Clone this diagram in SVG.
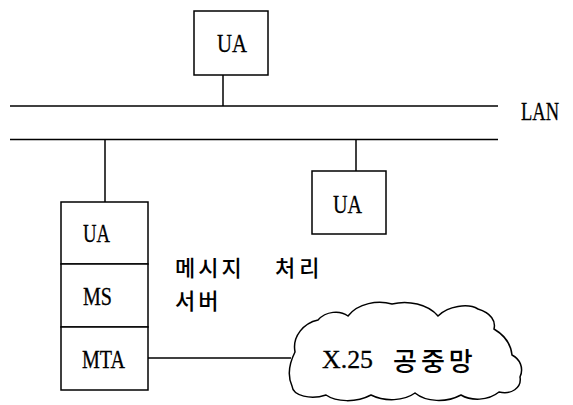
<svg xmlns="http://www.w3.org/2000/svg" width="573" height="405" viewBox="0 0 573 405">
<style>
.ln{stroke:#000;stroke-width:1.5;fill:none}
.bx{stroke:#000;stroke-width:1.5;fill:#fff}
.lt{font-family:"Liberation Serif",serif;font-size:26px;fill:#000;stroke:#000;stroke-width:0.3}
.ko{font-family:"Noto Sans CJK KR",sans-serif;font-weight:500;fill:#000}
</style>
<rect width="573" height="405" fill="#fff"/>
<g id="connectors">
<line class="ln" x1="10" y1="106" x2="498" y2="106"/>
<line class="ln" x1="10" y1="139.5" x2="498" y2="139.5"/>
<line class="ln" x1="223" y1="75" x2="223" y2="106"/>
<line class="ln" x1="105" y1="139.5" x2="105" y2="202"/>
<line class="ln" x1="356" y1="139.5" x2="356" y2="171"/>
<line class="ln" x1="148" y1="358" x2="291" y2="358"/>
</g>
<g id="lan">
<text class="lt" x="521" y="120" font-size="20" textLength="38" lengthAdjust="spacingAndGlyphs">LAN</text>
</g>
<g id="ua-top">
<rect class="bx" x="194" y="11" width="74" height="64"/>
<text class="lt" x="217" y="52" textLength="30" lengthAdjust="spacingAndGlyphs">UA</text>
</g>
<g id="ua-right">
<rect class="bx" x="312" y="171" width="74" height="63"/>
<text class="lt" x="333" y="213" textLength="29" lengthAdjust="spacingAndGlyphs">UA</text>
</g>
<g id="server">
<rect class="bx" x="61" y="202" width="87" height="62"/>
<rect class="bx" x="61" y="264" width="87" height="63"/>
<rect class="bx" x="61" y="327" width="87" height="63"/>
<text class="lt" x="83" y="242" textLength="27" lengthAdjust="spacingAndGlyphs">UA</text>
<text class="lt" x="83" y="305" textLength="29" lengthAdjust="spacingAndGlyphs">MS</text>
<text class="lt" x="82" y="368" textLength="43" lengthAdjust="spacingAndGlyphs">MTA</text>
</g>
<g id="server-label">
<text class="ko" x="175" y="276" font-size="22" letter-spacing="3">메시지</text>
<text class="ko" x="275" y="276" font-size="22" letter-spacing="4">처리</text>
<text class="ko" x="175" y="309" font-size="22" letter-spacing="3">서버</text>
</g>
<g id="x25">
<path class="ln" d="M295,352 C292,336 304,323 318,320 C326,311 340,310 348,316 C358,303 378,300 392,304 C408,300 428,304 438,316 C448,306 468,303 478,309 C491,313 496,321 494,329 C504,335 511,344 512,355 C520,359 524,368 520,377 C522,388 511,395 499,392 C488,401 471,401 461,395 C446,403 426,402 415,393 C404,401 385,402 371,395 C356,403 336,402 326,395 C311,400 293,396 292,386 C287,375 290,362 295,352 Z"/>
<text x="322" y="368" font-family="Liberation Serif,serif" font-size="25" stroke="#000" stroke-width="0.3" textLength="51" lengthAdjust="spacingAndGlyphs">X.25</text>
<text class="ko" x="393" y="371" font-size="26" letter-spacing="4">공중망</text>
</g>
</svg>
